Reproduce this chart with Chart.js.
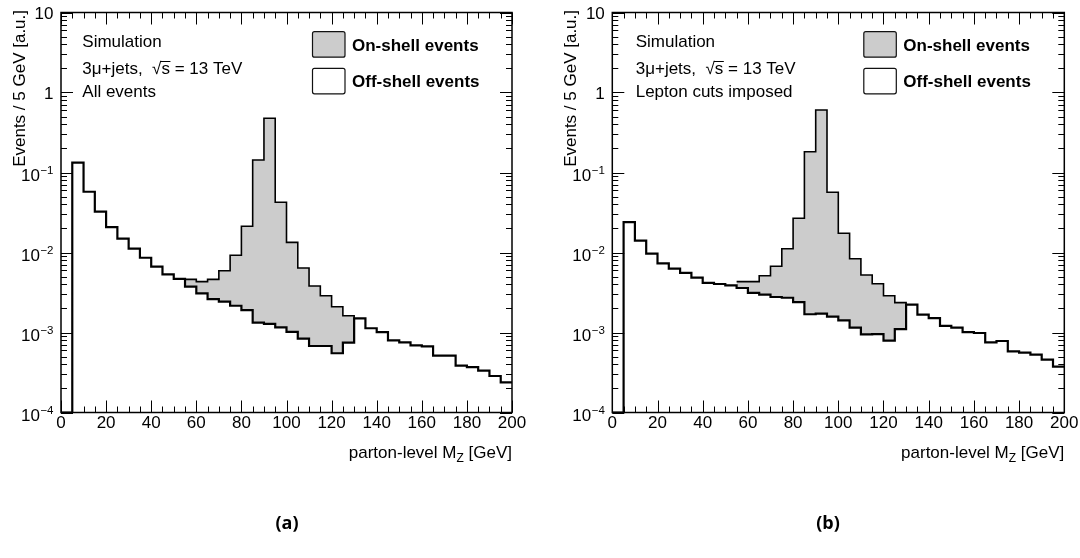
<!DOCTYPE html>
<html lang="en">
<head>
<meta charset="utf-8">
<title>Parton-level M_Z distributions</title>
<script src="https://cdn.jsdelivr.net/npm/chart.js@4.4.1/dist/chart.umd.min.js"></script>
<style>
  html, body { margin: 0; padding: 0; background: #fff; }
  #page { position: relative; width: 1080px; height: 558px; overflow: hidden; background: #fff; }
  canvas { position: absolute; top: 0; }
  .caption { position: absolute; top: 510px; width: 100px; text-align: center;
             font: bold 18px "Open Sans", "Noto Sans", sans-serif; color: #000; }
</style>
</head>
<body>
<div id="page">
  <canvas id="chartA" width="540" height="558" style="left:0"></canvas>
  <canvas id="chartB" width="540" height="558" style="left:540px"></canvas>
  <div class="caption" style="left:237px">(a)</div>
  <div class="caption" style="left:778px">(b)</div>
</div>
<script>
// ---- histogram binning (5 GeV bins, lower edges) ----
const binWidth = 5;
const binLow = [0, 5, 10, 15, 20, 25, 30, 35, 40, 45, 50, 55, 60, 65, 70, 75, 80, 85, 90, 95,
                100, 105, 110, 115, 120, 125, 130, 135, 140, 145, 150, 155, 160, 165, 170, 175, 180, 185, 190, 195];
const xTickStep = 20;
const xMinorStep = 5;
const yAxisMin = 1e-4;
const yAxisMax = 10;

// ---- (a) all events ----
const offShellAll = [0, 0.133, 0.0575, 0.0324, 0.0208, 0.0149, 0.0112, 0.0086, 0.00665, 0.00534,
                     0.00467, 0.00374, 0.00309, 0.00262, 0.00243, 0.00216, 0.00190, 0.00133, 0.00128, 0.00116,
                     0.00102, 0.000837, 0.000678, 0.000678, 0.00055, 0.000746, 0.00150, 0.00113, 0.00101, 0.000799,
                     0.000754, 0.000692, 0.000672, 0.000513, 0.000513, 0.000385, 0.00037, 0.000333, 0.000286, 0.000238];
const onShellAll = [null, null, null, null, null, null, null, null, null, null,
                    null, 0.00462, 0.00432, 0.00462, 0.00592, 0.00923, 0.0213, 0.143, 0.476, 0.0424,
                    0.0134, 0.0064, 0.00381, 0.00288, 0.0021, 0.00162, null, null, null, null,
                    null, null, null, null, null, null, null, null, null, null];

// ---- (b) lepton cuts imposed ----
const offShellCuts = [0, 0.0240, 0.01405, 0.00966, 0.00733, 0.00627, 0.00555, 0.00484, 0.00416, 0.00404,
                      0.00389, 0.0036, 0.00312, 0.00297, 0.00278, 0.00272, 0.0024, 0.00169, 0.00172, 0.00158,
                      0.00142, 0.00115, 0.00095, 0.000957, 0.00079, 0.0011, 0.00223, 0.00167, 0.00151, 0.00121,
                      0.00115, 0.00101, 0.000986, 0.000754, 0.000783, 0.000582, 0.000559, 0.000528, 0.000457, 0.000374];
const onShellCuts = [null, null, null, null, null, null, null, null, null, null,
                     null, 0.00432, 0.00432, 0.00513, 0.00672, 0.01115, 0.0268, 0.182, 0.604, 0.0566,
                     0.0174, 0.00837, 0.00524, 0.00407, 0.00288, 0.00236, null, null, null, null,
                     null, null, null, null, null, null, null, null, null, null];

const seriesLabels = ['Off-shell events', 'On-shell events'];
const FONT = '"Liberation Sans", Arial, Helvetica, sans-serif';

// empty bins sit on the floor of the log axis
const floorVal = v => (v > 0 ? v : yAxisMin);

// Histogram outline: one point per lower bin edge, plus the upper edge of the last bin.
function histPoints(low, vals) {
  const pts = low.map((x, i) => ({ x, y: floorVal(vals[i]) }));
  pts.push({ x: low[low.length - 1] + binWidth, y: floorVal(vals[vals.length - 1]) });
  return pts;
}
// Histogram restricted to the bins that carry a value; drops to the floor after the last filled bin.
function windowPoints(low, vals) {
  const pts = [];
  for (let i = 0; i < vals.length; i++) {
    if (vals[i] == null) {
      if (i > 0 && vals[i - 1] != null) pts.push({ x: low[i], y: yAxisMin });
      pts.push({ x: low[i], y: null });
    } else {
      pts.push({ x: low[i], y: vals[i] });
    }
  }
  if (vals[vals.length - 1] != null) pts.push({ x: low[low.length - 1] + binWidth, y: yAxisMin });
  return pts;
}

// Frame, inward ticks, superscript decade labels, axis titles, text block and legend.
const decor = {
  id: 'decor',
  afterDraw(chart, args, o) {
    const { ctx, chartArea: a, scales: { x, y } } = chart;
    ctx.save();

    // ticks on all four sides, pointing inwards
    ctx.strokeStyle = '#000';
    ctx.lineWidth = 1;
    ctx.beginPath();
    for (let v = x.min; v <= x.max + 1e-9; v += xMinorStep) {
      const px = Math.round(x.getPixelForValue(v)) + 0.5;
      const len = (v % xTickStep === 0) ? 12 : 6;
      ctx.moveTo(px, a.bottom); ctx.lineTo(px, a.bottom - len);
      ctx.moveTo(px, a.top); ctx.lineTo(px, a.top + len);
    }
    const e0 = Math.round(Math.log10(y.min)), e1 = Math.round(Math.log10(y.max));
    for (let e = e0; e <= e1; e++) {
      for (let k = 1; k <= 9; k++) {
        const val = k * Math.pow(10, e);
        if (val > y.max * 1.0001) break;
        const py = Math.round(y.getPixelForValue(val)) + 0.5;
        const len = k === 1 ? 12 : 6;
        ctx.moveTo(a.left, py); ctx.lineTo(a.left + len, py);
        ctx.moveTo(a.right, py); ctx.lineTo(a.right - len, py);
      }
    }
    ctx.stroke();

    // frame
    ctx.lineWidth = 1.5;
    ctx.strokeRect(a.left, a.top, a.right - a.left, a.bottom - a.top);

    // decade labels 10^n
    ctx.fillStyle = '#000';
    ctx.textBaseline = 'alphabetic';
    ctx.textAlign = 'right';
    const xr = a.left - 7.5;
    for (let e = e0; e <= e1; e++) {
      const py = y.getPixelForValue(Math.pow(10, e));
      if (e === 0 || e === 1) {
        ctx.font = `17px ${FONT}`;
        ctx.fillText(e === 0 ? '1' : '10', xr, py + 6.5);
      } else {
        ctx.font = `11.5px ${FONT}`;
        const sup = (e < 0 ? '\u2212' : '') + Math.abs(e);
        const w = ctx.measureText(sup).width;
        ctx.fillText(sup, xr, py + 1);
        ctx.font = `17px ${FONT}`;
        ctx.fillText('10', xr - w - 0.5, py + 8.5);
      }
    }

    // y-axis title, aligned to the top of the axis
    ctx.save();
    ctx.translate(a.left - 36.5, a.top - 2.5);
    ctx.rotate(-Math.PI / 2);
    ctx.textAlign = 'right';
    ctx.font = `17px ${FONT}`;
    ctx.fillText('Events / 5 GeV [a.u.]', 0, 0);
    ctx.restore();

    // x-axis title with subscript, aligned to the right end of the axis
    ctx.textAlign = 'left';
    const tBase = a.bottom + 45.5;
    ctx.font = `17px ${FONT}`;
    const p1 = 'parton-level M', p3 = ' [GeV]';
    const w1 = ctx.measureText(p1).width, w3 = ctx.measureText(p3).width;
    ctx.font = `12px ${FONT}`;
    const w2 = ctx.measureText('Z').width;
    let tx = a.right - (w1 + w2 + w3);
    ctx.font = `17px ${FONT}`;
    ctx.fillText(p1, tx, tBase);
    ctx.font = `12px ${FONT}`;
    ctx.fillText('Z', tx + w1, tBase + 4);
    ctx.font = `17px ${FONT}`;
    ctx.fillText(p3, tx + w1 + w2, tBase);

    // text block
    const lx = a.left + o.textDx;
    ctx.fillText('Simulation', lx, 46.7);
    const pre = '3\u03bc+jets,  \u221a', sChar = 's', post = ' = 13 TeV';
    ctx.fillText(pre + sChar + post, lx, 74);
    const wPre = ctx.measureText(pre).width, wS = ctx.measureText(sChar).width;
    ctx.lineWidth = 1;
    ctx.beginPath();
    ctx.moveTo(lx + wPre - 1, 61.5);
    ctx.lineTo(lx + wPre + wS + 0.5, 61.5);
    ctx.stroke();
    ctx.fillText(o.selection, lx, 97.3);

    // legend
    const bx = a.left + 251.5;
    const ds = chart.data.datasets;
    const entries = [
      { ds: ds[1], top: 31.7, base: 50.7 },
      { ds: ds[0], top: 68.3, base: 87.3 }
    ];
    entries.forEach(en => {
      ctx.beginPath();
      ctx.roundRect(bx, en.top, 32.5, 25.5, 2);
      ctx.fillStyle = en.ds.backgroundColor;
      ctx.fill();
      ctx.lineWidth = 1.2;
      ctx.strokeStyle = '#111';
      ctx.stroke();
      ctx.fillStyle = '#000';
      ctx.font = `bold 17px ${FONT}`;
      ctx.fillText(en.ds.label, bx + 39.5, en.base);
    });

    ctx.restore();
  }
};

function makePanel(id, plotLeft, plotRight, offVals, onVals, selection, textDx) {
  return new Chart(document.getElementById(id), {
    type: 'line',
    data: {
      datasets: [
        { label: seriesLabels[0], data: histPoints(binLow, offVals), stepped: true,
          borderColor: '#000', borderWidth: 2.2, backgroundColor: '#ffffff', fill: 'start',
          pointRadius: 0, borderJoinStyle: 'miter', borderCapStyle: 'butt' },
        { label: seriesLabels[1], data: windowPoints(binLow, onVals), stepped: true,
          borderColor: '#000', borderWidth: 1.6, backgroundColor: '#cccccc', fill: 'start',
          pointRadius: 0, borderJoinStyle: 'miter', borderCapStyle: 'butt' }
      ]
    },
    options: {
      responsive: false,
      animation: false,
      events: [],
      layout: { padding: { left: 0, right: 540 - plotRight, top: 12.5, bottom: 0 } },
      plugins: {
        legend: { display: false },
        tooltip: { enabled: false },
        decor: { selection, textDx }
      },
      scales: {
        x: {
          type: 'linear', min: 0, max: 200,
          grid: { display: false, drawTicks: false },
          border: { display: false },
          ticks: { stepSize: xTickStep, color: '#000', padding: 1, maxRotation: 0, autoSkip: false,
                   font: { family: FONT, size: 17 } },
          afterFit(s) { s.height = 558 - 412.5; s.paddingLeft = 0; s.paddingRight = 0; }
        },
        y: {
          type: 'logarithmic', min: yAxisMin, max: yAxisMax,
          grid: { display: false, drawTicks: false },
          border: { display: false },
          ticks: { display: false },
          afterFit(s) { s.width = plotLeft; s.paddingTop = 0; s.paddingBottom = 0; }
        }
      }
    },
    plugins: [decor]
  });
}

makePanel('chartA', 61, 512, offShellAll, onShellAll, 'All events', 21.3);
makePanel('chartB', 72.3, 524.3, offShellCuts, onShellCuts, 'Lepton cuts imposed', 23.4);
</script>
</body>
</html>
